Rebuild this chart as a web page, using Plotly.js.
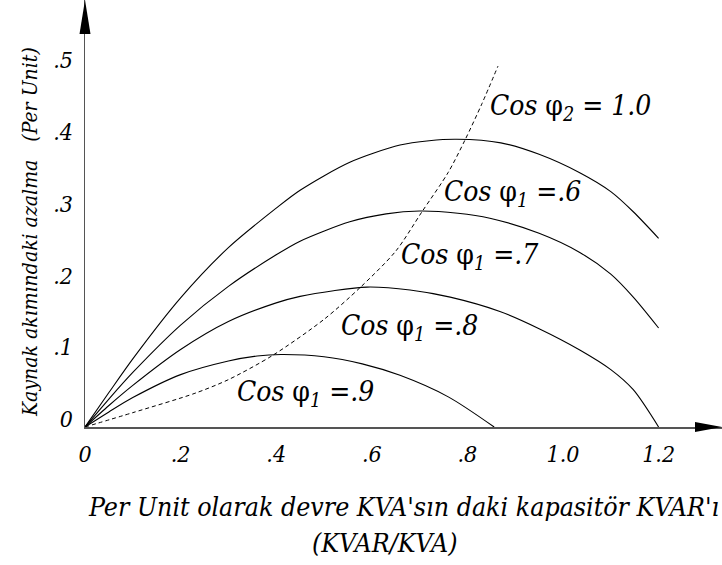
<!DOCTYPE html>
<html>
<head>
<meta charset="utf-8">
<script src="https://cdn.plot.ly/plotly-3.0.1.min.js"></script>
<style>html,body{margin:0;padding:0;background:#fff;}#chart{width:722px;height:565px;}</style>
</head>
<body>
<div id="chart"></div>
<script>
// Values
const x_cos06 = [0, 0.05, 0.1, 0.2, 0.3, 0.4, 0.45, 0.554, 0.659, 0.72, 0.778, 0.87, 0.95, 1.036, 1.1, 1.147, 1.2];
const y_cos06 = [0, 0.048, 0.095, 0.18, 0.25, 0.305, 0.33, 0.369, 0.393, 0.399, 0.401, 0.396, 0.38, 0.354, 0.328, 0.30, 0.263];

const x_cos07 = [0, 0.05, 0.1, 0.2, 0.3, 0.4, 0.45, 0.554, 0.63, 0.70, 0.78, 0.847, 0.95, 1.036, 1.1, 1.147, 1.2];
const y_cos07 = [0, 0.039, 0.076, 0.142, 0.196, 0.24, 0.259, 0.286, 0.297, 0.301, 0.298, 0.291, 0.27, 0.243, 0.213, 0.181, 0.138];

const x_cos08 = [0, 0.05, 0.1, 0.2, 0.3, 0.4, 0.45, 0.52, 0.59, 0.68, 0.764, 0.868, 0.95, 1.036, 1.1, 1.147, 1.2];
const y_cos08 = [0, 0.03, 0.058, 0.108, 0.147, 0.173, 0.182, 0.19, 0.195, 0.191, 0.181, 0.161, 0.137, 0.107, 0.08, 0.052, 0];

const x_cos09 = [0, 0.05, 0.1, 0.2, 0.3, 0.36, 0.41, 0.5, 0.58, 0.659, 0.76, 0.856];
const y_cos09 = [0, 0.021, 0.041, 0.073, 0.092, 0.099, 0.101, 0.098, 0.088, 0.072, 0.042, 0];

const x_cos10 = [0, 0.1, 0.23, 0.3, 0.393, 0.5, 0.575, 0.65, 0.705, 0.76, 0.795, 0.83, 0.864];
const y_cos10 = [0, 0.02, 0.047, 0.066, 0.1, 0.15, 0.194, 0.245, 0.30, 0.355, 0.40, 0.45, 0.503];

const xTickVals = [0, 0.2, 0.4, 0.6, 0.8, 1.0, 1.2];
const xTickText = ['0', '.2', '.4', '.6', '.8', '1.0', '1.2'];
const yTickVals = [0, 0.1, 0.2, 0.3, 0.4, 0.5];
const yTickText = ['0', '.1', '.2', '.3', '.4', '.5'];

const curveLabels = [
  {x: 1.015, y: 0.445, text: '<i>Cos</i> φ<sub><i>2</i></sub> <i>= 1.0</i>'},
  {x: 0.895, y: 0.326, text: '<i>Cos</i> φ<sub><i>1</i></sub> <i>=.6</i>'},
  {x: 0.805, y: 0.237, text: '<i>Cos</i> φ<sub><i>1</i></sub> <i>=.7</i>'},
  {x: 0.678, y: 0.139, text: '<i>Cos</i> φ<sub><i>1</i></sub> <i>=.8</i>'},
  {x: 0.462, y: 0.047, text: '<i>Cos</i> φ<sub><i>1</i></sub> <i>=.9</i>'}
];

const FONT = 'DejaVu Serif Condensed';
const solid = {color: '#000', width: 1.1, shape: 'spline', smoothing: 0.8};

const traces = [
  {x: x_cos06, y: y_cos06, mode: 'lines', line: solid, hoverinfo: 'skip'},
  {x: x_cos07, y: y_cos07, mode: 'lines', line: solid, hoverinfo: 'skip'},
  {x: x_cos08, y: y_cos08, mode: 'lines', line: solid, hoverinfo: 'skip'},
  {x: x_cos09, y: y_cos09, mode: 'lines', line: solid, hoverinfo: 'skip'},
  {x: x_cos10, y: y_cos10, mode: 'lines', line: {color: '#000', width: 1, dash: '4px,3px', shape: 'spline', smoothing: 0.8}, hoverinfo: 'skip'}
];

const annotations = curveLabels.map(l => ({
  x: l.x, y: l.y, xref: 'x', yref: 'y', text: l.text, showarrow: false,
  font: {family: FONT, size: 28, color: '#000'}, xanchor: 'center', yanchor: 'middle'
}));

annotations.push({
  xref: 'paper', yref: 'paper', x: (403 - 85) / 637, y: (427 - 506) / 427,
  text: "<i>Per Unit olarak devre KVA'sın daki kapasitör KVAR'ı</i>", showarrow: false,
  font: {family: FONT, size: 26.5, color: '#000'}, xanchor: 'center', yanchor: 'middle'
});
annotations.push({
  xref: 'paper', yref: 'paper', x: (385 - 85) / 637, y: (427 - 542) / 427,
  text: '<i>(KVAR/KVA)</i>', showarrow: false,
  font: {family: FONT, size: 26.5, color: '#000'}, xanchor: 'center', yanchor: 'middle'
});
annotations.push({
  xref: 'paper', yref: 'paper', x: (30 - 85) / 637, y: (427 - 232) / 427,
  text: '<i>Kaynak akımındaki azalma\u00A0\u00A0\u00A0(Per Unit)</i>', showarrow: false, textangle: -90,
  font: {family: FONT, size: 21, color: '#000'}, xanchor: 'center', yanchor: 'middle'
});

const shapes = [
  {type: 'path', xref: 'paper', yref: 'paper', layer: 'above',
   path: 'M 1 0 L ' + (1 - 27/637) + ' ' + (5/427) + ' L ' + (1 - 27/637) + ' ' + (-5/427) + ' Z',
   fillcolor: '#000', line: {color: '#000', width: 0}},
  {type: 'path', xref: 'paper', yref: 'paper', layer: 'above',
   path: 'M 0 1 L ' + (-5.5/637) + ' ' + (1 - 34/427) + ' L ' + (5.5/637) + ' ' + (1 - 34/427) + ' Z',
   fillcolor: '#000', line: {color: '#000', width: 0}}
];

const layout = {
  width: 722, height: 565,
  margin: {l: 85, r: 0, t: 0, b: 138, pad: 0},
  paper_bgcolor: '#fff', plot_bgcolor: '#fff',
  showlegend: false,
  xaxis: {
    range: [0, 637/478], showgrid: false, zeroline: false,
    showline: true, linecolor: '#555', linewidth: 1.5,
    tickmode: 'array', tickvals: xTickVals, ticktext: xTickText, ticks: '',
    ticklabelstandoff: 6,
    tickfont: {family: FONT, size: 23, color: '#000', style: 'italic'}
  },
  yaxis: {
    range: [0, 427/717.5], showgrid: false, zeroline: false,
    showline: true, linecolor: '#555', linewidth: 1.5,
    tickmode: 'array', tickvals: yTickVals, ticktext: yTickText, ticks: '',
    ticklabelstandoff: 6, ticklabelshift: -8,
    tickfont: {family: FONT, size: 23, color: '#000', style: 'italic'}
  },
  annotations: annotations,
  shapes: shapes
};

Plotly.newPlot('chart', traces, layout, {staticPlot: true, displayModeBar: false});
</script>
</body>
</html>
